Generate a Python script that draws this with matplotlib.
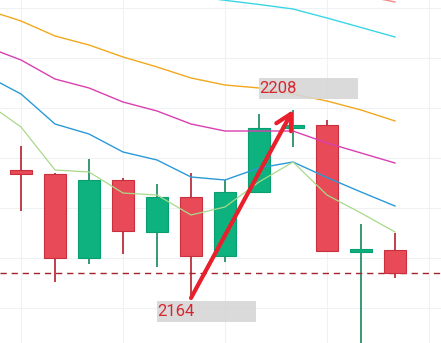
import matplotlib
matplotlib.use("Agg")
import matplotlib.pyplot as plt
from matplotlib.patches import Rectangle
import numpy as np

# ---- data ----
idx = list(range(1, 13))
opens  = [2193.96, 2193.02, 2173.36, 2191.62, 2179.45, 2187.64, 2173.83, 2188.81, 2203.67, 2204.49, 2174.77, 2175.23]
closes = [2193.02, 2173.36, 2191.62, 2179.68, 2187.64, 2173.83, 2188.81, 2203.79, 2204.49, 2175.00, 2175.23, 2169.85]
highs  = [2199.57, 2193.25, 2196.53, 2192.08, 2190.68, 2193.25, 2191.62, 2207.06, 2208.00, 2205.66, 2181.32, 2179.21]
lows   = [2184.36, 2167.74, 2171.96, 2174.30, 2171.26, 2164.00, 2172.43, 2188.81, 2199.34, 2175.00, 2152.00, 2168.68]

ma_idx = list(range(0, 13))
ma_orange  = [2231.40, 2228.83, 2225.32, 2223.21, 2220.41, 2218.07, 2215.49, 2213.85, 2213.15, 2211.74, 2210.10, 2208.00, 2205.43]
ma_magenta = [2222.74, 2219.70, 2215.25, 2213.15, 2209.87, 2207.77, 2204.72, 2203.08, 2203.08, 2203.08, 2200.28, 2197.94, 2195.59]
ma_blue    = [2215.96, 2211.74, 2204.72, 2202.38, 2198.17, 2196.30, 2192.32, 2191.62, 2194.43, 2195.83, 2192.20, 2188.81, 2185.53]
ma_green   = [2209.64, 2204.02, 2193.96, 2193.49, 2188.57, 2188.10, 2183.43, 2185.30, 2191.15, 2195.83, 2188.10, 2183.89, 2179.45]
ma_cyan    = [np.nan]*6 + [2234.68, 2233.67, 2232.69, 2231.64, 2229.53, 2227.31, 2225.08]
ma_red     = [np.nan]*10 + [2236.50, 2234.87, 2233.28]

arrow_from = (6, 2164)
arrow_to = (9, 2208)
label_values = [2208, 2164]

# ---- figure ----
fig = plt.figure(figsize=(4.41, 3.43), dpi=100)
ax = fig.add_axes([0, 0, 1, 1])
ax.set_xlim(1 - 21/34, 1 + 420/34)
ax.set_ylim(2153.47, 2233.74)
ax.axis("off")

grid_c = "#eef2f5"
for gx in [1, 4, 7, 10, 13]:
    ax.axvline(gx, color=grid_c, lw=0.8, zorder=0)
for gy in [2231.87, 2220.17, 2208.47, 2196.77, 2185.07, 2173.36, 2161.66]:
    ax.axhline(gy, color=grid_c, lw=0.8, zorder=0)

red_body, red_edge, red_wick = "#e84a58", "#c9303d", "#b3202c"
green_body, green_edge, green_wick = "#0db27f", "#0a9f70", "#15875a"
w = 22/34
min_h = 0.6
for i, o, c, h, l in zip(idx, opens, closes, highs, lows):
    up = c >= o
    wc = green_wick if up else red_wick
    ax.vlines(i, l, h, color=wc, lw=1.2, zorder=2)
    bottom = min(o, c)
    height = max(abs(c - o), min_h)
    ax.add_patch(Rectangle((i - w/2, bottom), w, height,
                           facecolor=green_body if up else red_body,
                           edgecolor=green_edge if up else red_edge, lw=0.8, zorder=3))

# last close dashed line
ax.axhline(closes[-1], color="#a3222c", lw=1.0, ls=(0, (4.5, 3.5)), zorder=2)

# moving averages
ax.plot(ma_idx, ma_orange, color="#f2a81d", lw=1.0, zorder=4)
ax.plot(ma_idx, ma_magenta, color="#d93fb0", lw=1.0, zorder=4)
ax.plot(ma_idx, ma_blue, color="#2a9ad6", lw=1.0, zorder=4)
ax.plot(ma_idx, ma_green, color="#a8d98a", lw=0.9, zorder=4)
ax.plot(ma_idx, ma_cyan, color="#3ad6e4", lw=1.0, zorder=4)
ax.plot(ma_idx, ma_red, color="#f08a8a", lw=1.0, zorder=4)

# labels
box_w = 99/34
box_h = 21 * (80.27 / 343)
# 2208 box: left at candle 8, vertical centre slightly above the value
ax.add_patch(Rectangle((8, 2210.57), box_w, box_h, facecolor="#d6d6d6", alpha=0.9,
                       edgecolor="none", zorder=5))
ax.text(8 + 0.02, 2210.57 + box_h/2, str(label_values[0]), color="#d8262f",
        fontsize=12, family="Roboto", va="center", ha="left", zorder=6)
ax.add_patch(Rectangle((5, 2158.39), box_w, box_h, facecolor="#d6d6d6", alpha=0.9,
                       edgecolor="none", zorder=5))
ax.text(5 + 0.02, 2158.39 + box_h/2, str(label_values[1]), color="#d8262f",
        fontsize=12, family="Roboto", va="center", ha="left", zorder=6)

# arrow
ax.annotate("", xy=arrow_to, xytext=arrow_from,
            arrowprops=dict(arrowstyle="->,head_length=0.55,head_width=0.3",
                            mutation_scale=20, color="#e8202c", lw=3.0,
                            shrinkA=0, shrinkB=0),
            zorder=7)

fig.savefig("out.png", dpi=100)
